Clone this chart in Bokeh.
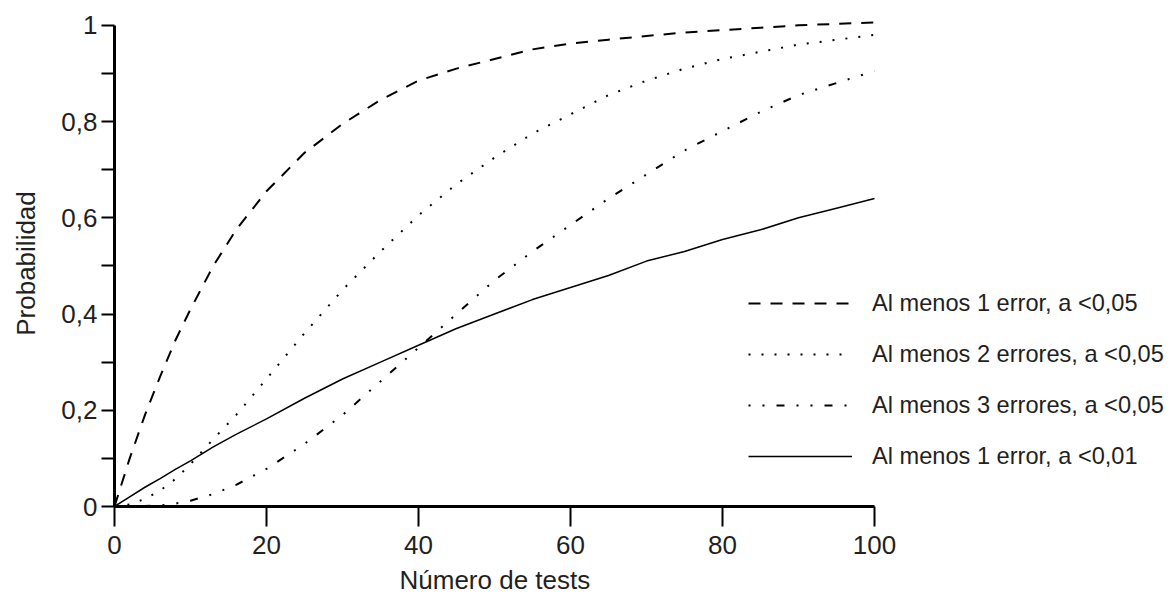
from bokeh.plotting import figure
from bokeh.models import Range1d, FixedTicker, Legend, LegendItem, Title
from bokeh.embed import file_html
from bokeh.resources import INLINE

# ---- data ----
n_tests = [0, 2, 4, 6, 8, 10, 13, 16, 20, 25, 30, 35, 40, 45, 50, 55, 60,
           65, 70, 75, 80, 85, 90, 95, 100]
al_menos_1_a05 = [0.0, 0.10, 0.19, 0.27, 0.345, 0.41, 0.50, 0.575, 0.655, 0.735,
                  0.795, 0.845, 0.885, 0.91, 0.93, 0.95, 0.962, 0.97, 0.978,
                  0.985, 0.99, 0.995, 1.0, 1.003, 1.006]
al_menos_2_a05 = [0.0, 0.004, 0.016, 0.033, 0.057, 0.088, 0.14, 0.19, 0.265, 0.36,
                  0.45, 0.53, 0.605, 0.67, 0.725, 0.775, 0.815, 0.855, 0.885,
                  0.91, 0.93, 0.945, 0.96, 0.97, 0.98]
al_menos_3_a05 = [0.0, 0.0, 0.001, 0.002, 0.006, 0.012, 0.026, 0.045, 0.078, 0.13,
                  0.19, 0.26, 0.33, 0.40, 0.47, 0.53, 0.585, 0.64, 0.69, 0.74,
                  0.78, 0.82, 0.855, 0.88, 0.905]
al_menos_1_a01 = [0.0, 0.02, 0.04, 0.058, 0.077, 0.095, 0.124, 0.15, 0.182, 0.225,
                  0.265, 0.30, 0.335, 0.37, 0.40, 0.43, 0.455, 0.48, 0.51, 0.53,
                  0.555, 0.575, 0.60, 0.62, 0.64]

legend_labels = ["Al menos 1 error, a <0,05",
                 "Al menos 2 errores, a <0,05",
                 "Al menos 3 errores, a <0,05",
                 "Al menos 1 error, a <0,01"]

x_ticks = [0, 20, 40, 60, 80, 100]
y_ticks = [0, 0.2, 0.4, 0.6, 0.8, 1]
y_tick_labels = ["0", "0,2", "0,4", "0,6", "0,8", "1"]
y_minor_ticks = [0.1, 0.3, 0.5, 0.7, 0.9]

x_title = "Número de tests"
y_title = "Probabilidad"

FONT = "Liberation Sans"
TXT = "#231f20"

W, H = 1175, 603
LEFT, TOP, BOTTOM = 114, 20, 97
frame_w = W - LEFT            # frame spans to right edge so legend is not clipped
x_end = 100 * frame_w / 760.0  # 0..100 occupies 760 px, as in the reference

p = figure(width=W, height=H, output_backend="svg", toolbar_location=None,
           x_range=Range1d(0, x_end), y_range=Range1d(0, 1.01),
           min_border_left=LEFT, min_border_right=0, min_border_top=TOP,
           min_border_bottom=BOTTOM)
p.outline_line_color = None
p.grid.visible = False
p.background_fill_color = "white"

r1 = p.line(n_tests, al_menos_1_a05, line_color="black", line_width=2, line_dash="12 10")
r2 = p.line(n_tests, al_menos_2_a05, line_color="black", line_width=2, line_dash="2 11")
r3 = p.line(n_tests, al_menos_3_a05, line_color="black", line_width=2, line_dash="2 12 2 12 8 12")
r4 = p.line(n_tests, al_menos_1_a01, line_color="black", line_width=1.5)

# axes
for ax in (p.xaxis[0], p.yaxis[0]):
    ax.axis_line_width = 3
    ax.axis_line_color = "black"
    ax.major_tick_line_width = 2
    ax.minor_tick_line_width = 2
    ax.major_tick_line_color = "black"
    ax.minor_tick_line_color = "black"
    ax.major_tick_in = 0
    ax.minor_tick_in = 0
    ax.major_label_text_font = FONT
    ax.major_label_text_font_size = "26px"
    ax.major_label_text_color = TXT
    ax.axis_label_text_font = FONT
    ax.axis_label_text_font_size = "26px"
    ax.axis_label_text_font_style = "normal"
    ax.axis_label_text_color = TXT

p.xaxis.bounds = (0, 100)
p.xaxis.ticker = FixedTicker(ticks=x_ticks, minor_ticks=[])
p.xaxis.major_tick_out = 20
p.xaxis.major_label_standoff = 9

# x-axis title centred under 0..100 (frame is wider to hold the legend)
xt = Title(text=x_title, align="left", offset=285, standoff=13,
           text_font=FONT, text_font_size="26px", text_font_style="normal",
           text_color=TXT)
p.add_layout(xt, "below")

p.yaxis.bounds = (0, 1)
p.yaxis.ticker = FixedTicker(ticks=y_ticks, minor_ticks=y_minor_ticks)
p.yaxis.major_label_overrides = dict(zip(y_ticks, y_tick_labels))
p.yaxis.major_tick_out = 13
p.yaxis.minor_tick_out = 13
p.yaxis.major_label_standoff = 4
p.yaxis.axis_label = y_title
p.yaxis.axis_label_standoff = 17

items = [LegendItem(label=lab, renderers=[r]) for lab, r in zip(legend_labels, [r1, r2, r3, r4])]
legend = Legend(items=items, location=(634, 35), glyph_width=104, glyph_height=30,
                label_height=30, spacing=21, padding=0, margin=0,
                border_line_color=None, background_fill_alpha=0,
                label_standoff=20, label_text_font=FONT, label_text_font_size="23.6px",
                label_text_color=TXT)
p.add_layout(legend)

open("out.html", "w").write(file_html(p, INLINE))
